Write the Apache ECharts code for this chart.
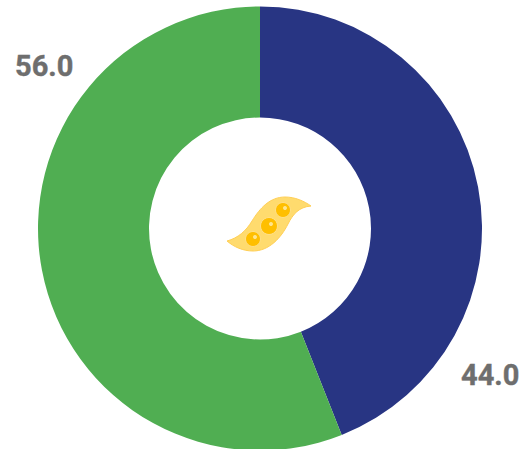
<!DOCTYPE html>
<html><head><meta charset="utf-8">
<style>html,body{margin:0;padding:0;background:#fff}#c{width:525px;height:449px}</style>
<script src="https://cdn.jsdelivr.net/npm/echarts@6/dist/echarts.min.js"></script>
</head><body><div id="c"></div>
<script>
const categories = ['A', 'B'];
const values = [44.0, 56.0];
const colors = ['#283583', '#50AE52'];
const pod = 'M227 241C238 238 246 231 252 221C260 208 270 197 285 197C295 197 304 201 311 206C299 207 293 214 288 224C281 238 269 251 253 251C243 251 234 247 227 241Z';
echarts.graphic.registerShape('podShape', echarts.graphic.extendPath(pod));
const chart = echarts.init(document.getElementById('c'), null, {renderer:'svg'});
chart.setOption({
  animation:false,
  series:[{
    type:'pie',
    center:[260,228.5],
    radius:[111,222],
    startAngle:90,
    clockwise:true,
    silent:true,
    data:categories.map((c,i)=>({name:c,value:values[i],itemStyle:{color:colors[i]}})),
    label:{show:false},
    labelLine:{show:false}
  }],
  graphic:[
    {type:'podShape',style:{fill:'#FFDB6E',stroke:'#FFCF55',lineWidth:1}},
    {type:'circle',shape:{cx:253,cy:239,r:7.5},style:{fill:'#FFBF00',stroke:'#FFE08A',lineWidth:1}},
    {type:'circle',shape:{cx:269,cy:226,r:8.5},style:{fill:'#FFBF00',stroke:'#FFE08A',lineWidth:1}},
    {type:'circle',shape:{cx:283,cy:210,r:7.5},style:{fill:'#FFBF00',stroke:'#FFE08A',lineWidth:1}},
    {type:'circle',shape:{cx:255,cy:237,r:2},style:{fill:'#FFE58F'}},
    {type:'circle',shape:{cx:271,cy:224,r:2},style:{fill:'#FFE58F'}},
    {type:'circle',shape:{cx:285,cy:208,r:2},style:{fill:'#FFE58F'}},
    {type:'text',style:{text:values[1].toFixed(1),x:15,y:51,fill:'#6E6E6E',stroke:'#6E6E6E',lineWidth:0.4,font:'bold 29px Roboto'}},
    {type:'text',style:{text:values[0].toFixed(1),x:461,y:360,fill:'#6E6E6E',stroke:'#6E6E6E',lineWidth:0.4,font:'bold 29px Roboto'}}
  ]
});
</script></body></html>
